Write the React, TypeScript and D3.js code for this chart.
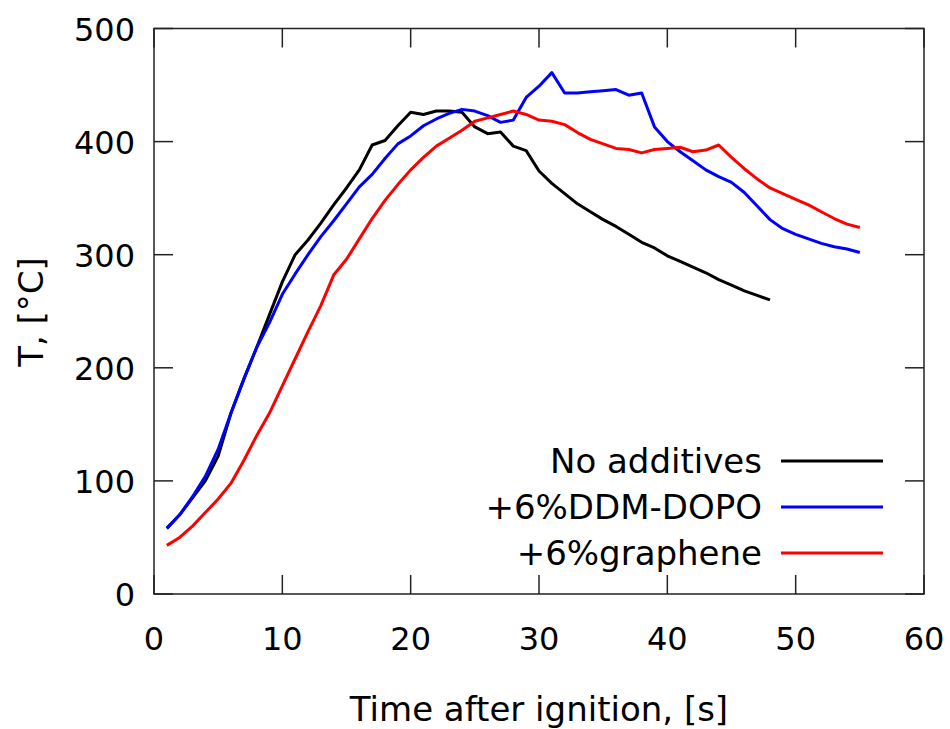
import React from "react";
import * as d3 from "d3";

const time = d3.range(1, 56);
const noAdditives = [58, 70, 85, 100, 122, 160, 190, 218, 247, 276, 300, 313, 328, 344, 359, 375, 397, 401, 414, 426, 424, 427, 427, 426, 413, 407, 408.5, 396, 392, 374, 363, 354, 345, 338, 331, 325, 318, 311, 306, 299, 294, 289, 284, 278, 273, 268, 264, 260];
const ddmDopo = [58, 70, 86, 104, 128, 160, 190, 218, 240, 265, 283, 300, 316, 330, 345, 360, 371, 385, 398, 405, 414, 420, 425, 428.5, 427, 423, 417, 419, 439, 449, 461, 443, 443, 444, 445, 446, 441, 443, 413, 400, 391, 383, 375, 369, 364, 355, 343, 331, 323, 318, 314, 310, 307, 305, 302];
const graphene = [43, 50, 60, 72, 84, 98, 118, 140, 160, 184, 208, 232, 255, 282, 296, 314, 332, 348, 362, 375, 386, 396, 403, 410, 418, 421, 424, 427, 424, 419, 418, 415, 408, 402, 398, 394, 393, 390, 393, 394, 395, 391, 392.5, 397, 386, 376, 367, 359, 354, 349, 344, 338, 332, 327, 324];

const seriesNames = ["No additives", "+6%DDM-DOPO", "+6%graphene"];
const seriesColors = ["#000000", "#0000ff", "#ff0000"];
const seriesValues = [noAdditives, ddmDopo, graphene];

const xTicks = [0, 10, 20, 30, 40, 50, 60];
const yTicks = [0, 100, 200, 300, 400, 500];

const W = 950;
const H = 729;
const left = 154;
const right = 924;
const top = 28.5;
const bottom = 594;
const FONT = "'DejaVu Sans', Verdana, sans-serif";
const FS_NUM = 32;
const FS_TXT = 34;

export default function App() {
  const x = d3.scaleLinear().domain([0, 60]).range([left, right]);
  const y = d3.scaleLinear().domain([0, 500]).range([bottom, top]);
  const line = d3
    .line<[number, number]>()
    .x((d) => x(d[0]))
    .y((d) => y(d[1]));
  const tickLen = 19;
  const frame = "#222";
  return (
    <svg width={W} height={H} style={{ position: "absolute", left: 0, top: 0 }} fontFamily={FONT}>
      <rect x={0} y={0} width={W} height={H} fill="#fff" />
      {seriesValues.map((vals, i) => (
        <path
          key={i}
          d={line(vals.map((v, j) => [time[j], v] as [number, number])) || ""}
          fill="none"
          stroke={seriesColors[i]}
          strokeWidth={3}
          strokeLinejoin="round"
        />
      ))}
      {xTicks.map((t) => (
        <g key={"x" + t}>
          <line x1={x(t)} x2={x(t)} y1={bottom} y2={bottom - tickLen} stroke={frame} strokeWidth={1.5} />
          <line x1={x(t)} x2={x(t)} y1={top} y2={top + tickLen} stroke={frame} strokeWidth={1.5} />
          <text x={x(t)} y={650} fontSize={FS_NUM} textAnchor="middle" fill="#000">
            {t}
          </text>
        </g>
      ))}
      {yTicks.map((t) => (
        <g key={"y" + t}>
          <line x1={left} x2={left + tickLen} y1={y(t)} y2={y(t)} stroke={frame} strokeWidth={1.5} />
          <line x1={right} x2={right - tickLen} y1={y(t)} y2={y(t)} stroke={frame} strokeWidth={1.5} />
          <text x={135} y={y(t) + 12} fontSize={FS_NUM} textAnchor="end" fill="#000">
            {t}
          </text>
        </g>
      ))}
      <rect x={left} y={top} width={right - left} height={bottom - top} fill="none" stroke={frame} strokeWidth={1.5} />
      {seriesNames.map((n, i) => {
        const ly = 461 + i * 46;
        return (
          <g key={n}>
            <text x={762} y={ly + 12} fontSize={FS_TXT} textAnchor="end" fill="#000">
              {n}
            </text>
            <line x1={781} x2={883} y1={ly} y2={ly} stroke={seriesColors[i]} strokeWidth={3} />
          </g>
        );
      })}
      <text x={539} y={721} fontSize={FS_TXT} textAnchor="middle" fill="#000">
        Time after ignition, [s]
      </text>
      <text transform={`translate(43,312) rotate(-90)`} fontSize={FS_TXT} textAnchor="middle" fill="#000">
        T, [°C]
      </text>
    </svg>
  );
}
